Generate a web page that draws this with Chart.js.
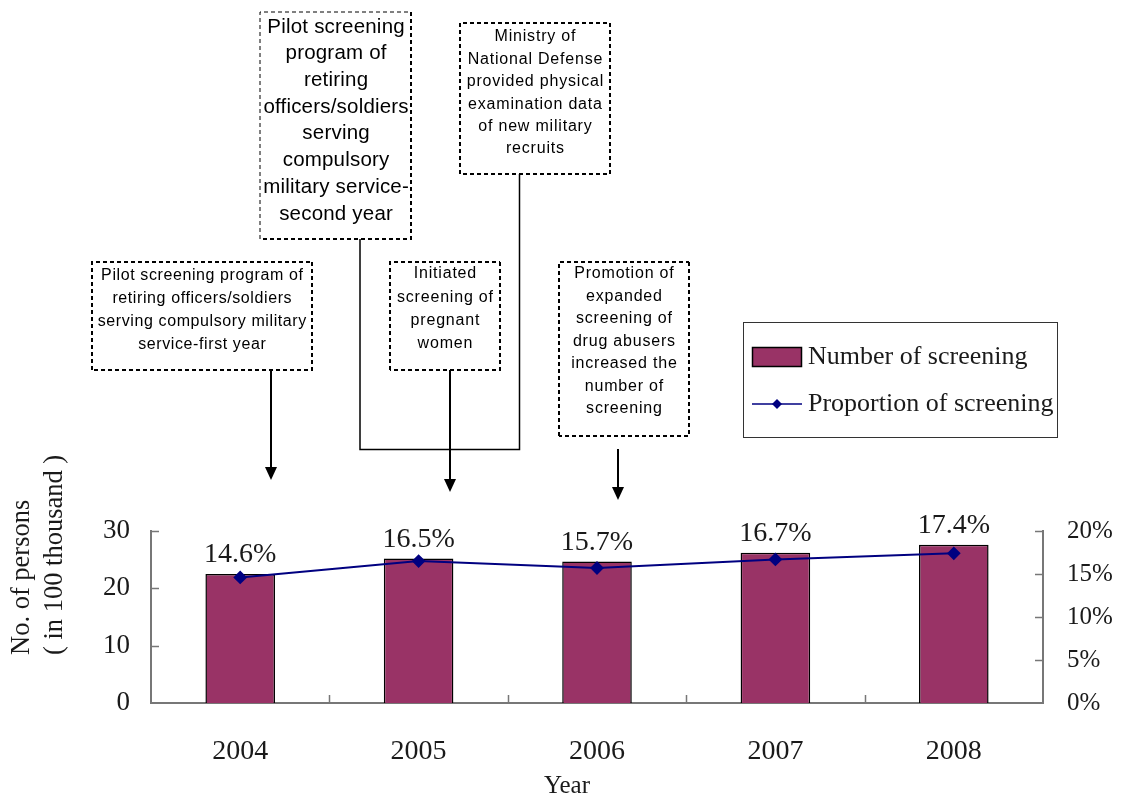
<!DOCTYPE html>
<html>
<head>
<meta charset="utf-8">
<script src="https://cdn.jsdelivr.net/npm/chart.js@4/dist/chart.umd.min.js"></script>
<style>
  html, body { margin:0; padding:0; background:#fff; }
  #wrap { width:1121px; height:796px; position:relative; }
</style>
</head>
<body>
<div id="wrap"><canvas id="c" width="1121" height="796"></canvas></div>
<script>
// ---- data ----
const years = ['2004', '2005', '2006', '2007', '2008'];
const screeningCounts = [22.5, 25.2, 24.7, 26.2, 27.6];      // in 100 thousand persons
const screeningProportion = [14.6, 16.5, 15.7, 16.7, 17.4];  // percent
const countTicks = [0, 10, 20, 30];
const proportionTicks = [0, 5, 10, 15, 20];
const seriesNames = ['Number of screening', 'Proportion of screening'];
const yTitleLines = ['No. of persons', '( in 100 thousand )'];
const xTitle = 'Year';

const noteFirstYear = ['Pilot screening program of', 'retiring officers/soldiers', 'serving compulsory military', 'service-first year'];
const noteSecondYear = ['Pilot screening', 'program of', 'retiring', 'officers/soldiers', 'serving', 'compulsory', 'military service-', 'second year'];
const noteDefense = ['Ministry of', 'National Defense', 'provided physical', 'examination data', 'of new military', 'recruits'];
const notePregnant = ['Initiated', 'screening of', 'pregnant', 'women'];
const noteDrug = ['Promotion of', 'expanded', 'screening of', 'drug abusers', 'increased the', 'number of', 'screening'];

const SERIF = '"Liberation Serif", "DejaVu Serif", serif';
const SANS = '"Liberation Sans", Arial, sans-serif';
const BAR_COLOR = '#993366';
const LINE_COLOR = '#000080';
const AXIS_COLOR = '#777777';
const TEXT_COLOR = '#1a1a1a';

// ---- custom drawing plugin ----
const decor = {
  id: 'decor',
  afterDatasetsDraw(chart) {
    const ctx = chart.ctx;
    const x = chart.scales.x, y = chart.scales.y, y1 = chart.scales.y1;
    const area = chart.chartArea;
    ctx.save();
    // inward tick marks
    ctx.strokeStyle = AXIS_COLOR;
    ctx.lineWidth = 1.5;
    ctx.beginPath();
    countTicks.forEach(v => { if (v === 0) return; const py = Math.round(y.getPixelForValue(v)) + 0.5; ctx.moveTo(area.left, py); ctx.lineTo(area.left + 8, py); });
    proportionTicks.forEach(v => { if (v === 0) return; const py = Math.round(y1.getPixelForValue(v)) + 0.5; ctx.moveTo(area.right, py); ctx.lineTo(area.right - 8, py); });
    for (let i = 1; i < years.length; i++) {
      const px = Math.round((x.getPixelForValue(i - 1) + x.getPixelForValue(i)) / 2) + 0.5;
      ctx.moveTo(px, area.bottom); ctx.lineTo(px, area.bottom - 8);
    }
    ctx.stroke();

    // data labels above bars
    const barMeta = chart.getDatasetMeta(0);
    ctx.fillStyle = TEXT_COLOR;
    ctx.font = '28px ' + SERIF;
    ctx.textAlign = 'center';
    ctx.textBaseline = 'middle';
    barMeta.data.forEach((bar, i) => {
      ctx.fillText(screeningProportion[i].toFixed(1) + '%', bar.x, bar.y - 19);
    });

    // axis titles
    ctx.font = '26.5px ' + SERIF;
    ctx.textBaseline = 'middle';
    ctx.textAlign = 'left';
    yTitleLines.forEach((line, i) => {
      ctx.save();
      ctx.translate(22 + i * 33, 655);
      ctx.rotate(-Math.PI / 2);
      ctx.fillText(line, 0, 0);
      ctx.restore();
    });
    ctx.font = '25px ' + SERIF;
    ctx.textAlign = 'center';
    ctx.fillText(xTitle, 567, 786);
    ctx.restore();
  },
  afterDraw(chart) {
    const ctx = chart.ctx;
    ctx.save();
    function box(x0, y0, x1, y1, thinLeftTop) {
      ctx.strokeStyle = '#000';
      ctx.setLineDash([4, 3]);
      ctx.lineWidth = thinLeftTop ? 1 : 2;
      ctx.beginPath();
      ctx.moveTo(x0, y1); ctx.lineTo(x0, y0); ctx.lineTo(x1, y0);
      ctx.stroke();
      ctx.lineWidth = 2;
      ctx.beginPath();
      ctx.moveTo(x1, y0); ctx.lineTo(x1, y1); ctx.lineTo(x0, y1);
      ctx.stroke();
      ctx.setLineDash([]);
    }
    function text(lines, cx, y0, step, size, spacing) {
      ctx.fillStyle = '#000';
      ctx.font = size + 'px ' + SANS;
      ctx.letterSpacing = spacing + 'px';
      ctx.textAlign = 'center';
      ctx.textBaseline = 'middle';
      lines.forEach((l, i) => ctx.fillText(l, cx + spacing / 2, y0 + i * step));
      ctx.letterSpacing = '0px';
    }
    function arrow(px, y0, y1) {
      ctx.strokeStyle = '#000';
      ctx.lineWidth = 2;
      ctx.beginPath(); ctx.moveTo(px, y0); ctx.lineTo(px, y1 - 12); ctx.stroke();
      ctx.fillStyle = '#000';
      ctx.beginPath(); ctx.moveTo(px - 6, y1 - 13); ctx.lineTo(px + 6, y1 - 13); ctx.lineTo(px, y1); ctx.closePath(); ctx.fill();
    }
    // first year
    box(92, 262, 312, 370);
    text(noteFirstYear, 202, 276, 23, 16, 0.6);
    arrow(271, 370, 480);
    // second year
    box(260, 12, 411, 239, true);
    text(noteSecondYear, 336, 27, 26.7, 20.5, 0.2);
    // defense
    box(460, 23, 610, 174);
    text(noteDefense, 535, 37, 22.4, 16, 0.8);
    // connector
    ctx.strokeStyle = '#000'; ctx.lineWidth = 1.5;
    ctx.beginPath();
    ctx.moveTo(360, 239); ctx.lineTo(360, 449.5); ctx.lineTo(519.5, 449.5); ctx.lineTo(519.5, 174);
    ctx.stroke();
    // pregnant
    box(390, 262, 500, 370);
    text(notePregnant, 445, 274, 23.3, 16, 0.8);
    arrow(450, 370, 492);
    // drug
    box(559, 262, 689, 436);
    text(noteDrug, 624, 274, 22.5, 16, 0.8);
    arrow(618, 449, 500);

    // legend
    ctx.setLineDash([]);
    ctx.strokeStyle = '#333'; ctx.lineWidth = 1;
    ctx.strokeRect(743.5, 322.5, 314, 115);
    ctx.fillStyle = BAR_COLOR;
    ctx.fillRect(752, 347, 50, 20);
    ctx.strokeStyle = '#000'; ctx.lineWidth = 1.5;
    ctx.strokeRect(752.5, 347.5, 49, 19);
    ctx.strokeStyle = LINE_COLOR; ctx.lineWidth = 1.5;
    ctx.beginPath(); ctx.moveTo(752, 404); ctx.lineTo(802, 404); ctx.stroke();
    ctx.fillStyle = LINE_COLOR;
    ctx.beginPath(); ctx.moveTo(777, 399); ctx.lineTo(782, 404); ctx.lineTo(777, 409); ctx.lineTo(772, 404); ctx.closePath(); ctx.fill();
    ctx.fillStyle = TEXT_COLOR;
    ctx.font = '26px ' + SERIF;
    ctx.textAlign = 'left'; ctx.textBaseline = 'middle';
    ctx.fillText(chart.data.datasets[0].label, 808, 357);
    ctx.fillText(chart.data.datasets[1].label, 808, 404);
    ctx.restore();
  }
};

new Chart(document.getElementById('c'), {
  data: {
    labels: years,
    datasets: [
      {
        type: 'bar',
        label: seriesNames[0],
        data: screeningCounts,
        backgroundColor: BAR_COLOR,
        borderColor: '#000',
        borderWidth: 1.5,
        barPercentage: 0.39,
        categoryPercentage: 1,
        yAxisID: 'y',
        order: 2
      },
      {
        type: 'line',
        label: seriesNames[1],
        data: screeningProportion,
        borderColor: LINE_COLOR,
        backgroundColor: LINE_COLOR,
        borderWidth: 2,
        pointStyle: 'rectRot',
        pointRadius: 5.5,
        pointBackgroundColor: LINE_COLOR,
        pointBorderColor: LINE_COLOR,
        tension: 0,
        yAxisID: 'y1',
        order: 1
      }
    ]
  },
  options: {
    responsive: false,
    animation: false,
    layout: { padding: { top: 531, left: 0, right: 0, bottom: 0 } },
    plugins: { legend: { display: false }, tooltip: { enabled: false } },
    scales: {
      x: {
        offset: true,
        grid: { display: false, drawTicks: false },
        border: { display: true, color: AXIS_COLOR, width: 2 },
        ticks: { color: TEXT_COLOR, font: { family: SERIF, size: 28 }, padding: 32 },
        title: { display: false },
        afterFit(s) { s.height = 93; }
      },
      y: {
        position: 'left',
        min: 0, max: 30,
        afterBuildTicks(s) { s.ticks = countTicks.map(v => ({ value: v })); },
        grid: { display: false, drawTicks: false },
        border: { display: true, color: AXIS_COLOR, width: 2 },
        ticks: { color: TEXT_COLOR, font: { family: SERIF, size: 27 }, padding: 21 },
        title: { display: false },
        afterFit(s) { s.width = 151; }
      },
      y1: {
        position: 'right',
        min: 0, max: 20,
        afterBuildTicks(s) { s.ticks = proportionTicks.map(v => ({ value: v })); },
        grid: { display: false, drawTicks: false },
        border: { display: true, color: AXIS_COLOR, width: 2 },
        ticks: { color: TEXT_COLOR, font: { family: SERIF, size: 25 }, padding: 24, callback: v => v + '%' },
        afterFit(s) { s.width = 78; }
      }
    }
  },
  plugins: [decor]
});
</script>
</body>
</html>
